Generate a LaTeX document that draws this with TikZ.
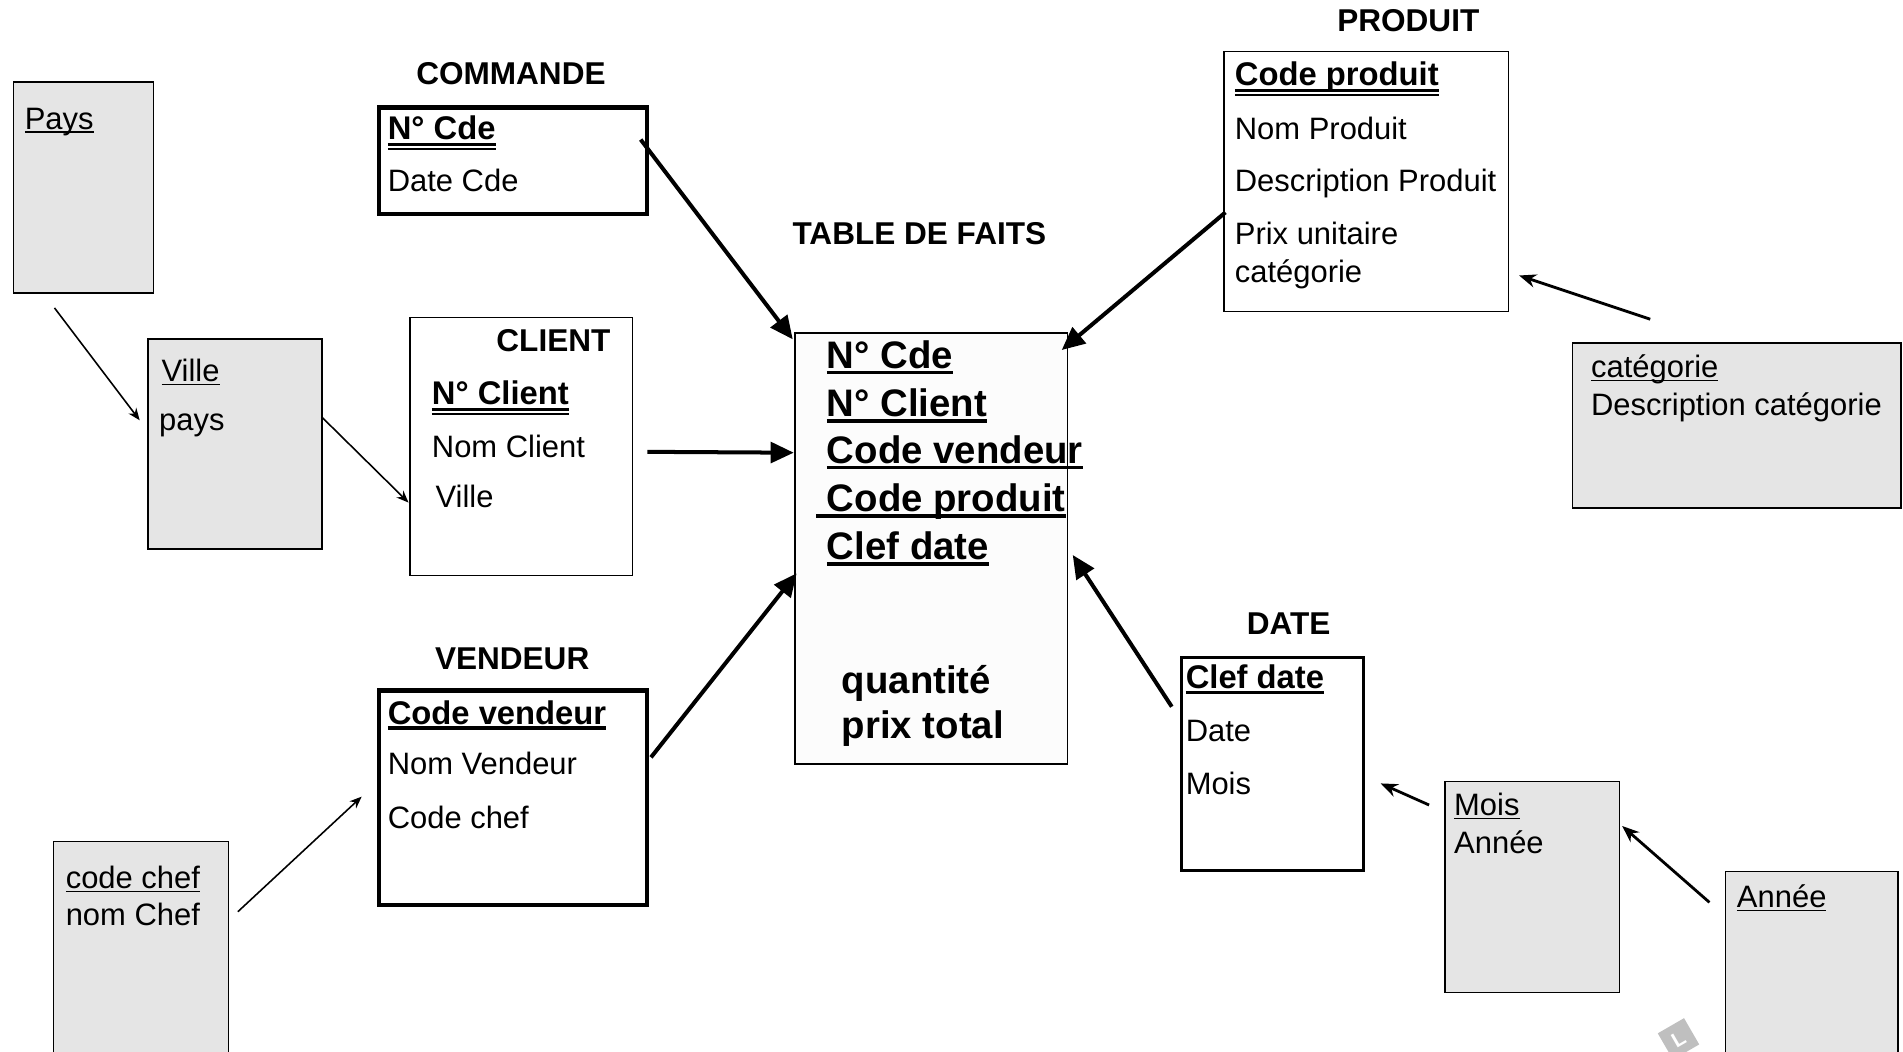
\documentclass[tikz,border=0pt]{standalone}
\usepackage{fontspec}
\setmainfont{Liberation Sans}
\usetikzlibrary{arrows.meta}

\newcommand{\souligne}[2][1.2pt]{\setbox0\hbox{#2}\rlap{\rule[\dimexpr-2pt-#1\relax]{\wd0}{#1}}\box0}
\newcommand{\dsouligne}[1]{\setbox0\hbox{#1}\rlap{\rule[-5pt]{\wd0}{2.2pt}}\rlap{\rule[-8.6pt]{\wd0}{1.8pt}}\box0}

\tikzset{
  boite/.style={draw, anchor=north west, inner sep=0pt, fill=white, line width=1.2pt},
  boiteforte/.style={boite, line width=3.5pt},
  hier/.style={boite, fill=gray!20, line width=1.3pt},
  titre/.style={anchor=base, inner sep=0pt, font=\fontsize{26}{31}\selectfont\bfseries},
  champ/.style={anchor=base west, inner sep=0pt, font=\fontsize{25.5}{30}\selectfont},
  clef/.style={champ, font=\fontsize{27}{32}\selectfont\bfseries},
  fait/.style={champ, font=\fontsize{31.6}{37}\selectfont\bfseries},
  fleche/.style={-{Stealth[length=10pt,width=8pt]}, line width=1.3pt},
  flechemoy/.style={-{Stealth[length=14pt,width=11pt]}, line width=2.3pt},
  flechegrosse/.style={-{Triangle[length=19pt,width=17pt]}, line width=3.3pt},
}

\begin{document}
\begin{tikzpicture}[x=1pt, y=-1pt]
            \clip (0,0) rectangle (1568,866);
            % coordinates
            \coordinate (pays-out) at (44.9,253.7);
            \coordinate (ville-in) at (115.1,346.3);
            \coordinate (ville-out) at (264.9,343.4);
            \coordinate (client-in) at (336.6,414.1);
            \coordinate (client-out) at (533.4,372.3);
            \coordinate (fait-in1) at (654,373);
            \coordinate (cmd-out) at (527.9,115);
            \coordinate (fait-in2) at (653.2,279.6);
            \coordinate (vend-out) at (536.4,624);
            \coordinate (fait-in3) at (656.4,472.4);
            \coordinate (prod-out) at (1009.7,175);
            \coordinate (fait-in4) at (874.8,288.4);
            \coordinate (date-out) at (965.5,582.3);
            \coordinate (fait-in5) at (883.9,457.3);
            \coordinate (cat-out) at (1359.7,263);
            \coordinate (prod-in) at (1251.7,227);
            \coordinate (mois-out) at (1177.5,663.3);
            \coordinate (date-in) at (1137.6,645.5);
            \coordinate (annee-out) at (1408.5,743.5);
            \coordinate (mois-in) at (1336.6,680.6);
            \coordinate (chef-out) at (196,751.2);
            \coordinate (vend-in) at (298,656.4);
            % pays / ville
            \node[hier, minimum width=115.5pt, minimum height=174pt] (pays) at (10.3,66.7) {};
            \node[champ] (pays-t1) at (20.2,106.3) {\souligne{Pays}};
            \node[hier, minimum width=143.4pt, minimum height=173pt] (ville) at (121.4,278.8) {};
            \node[champ] (ville-t1) at (133,314.4) {\souligne{Ville}};
            \node[champ] (ville-t2) at (131,354.9) {pays};
            % client
            \node[boite, minimum width=183.2pt, minimum height=212.5pt] (client) at (337.3,261) {};
            \node[titre] (client-titre) at (456,289.3) {CLIENT};
            \node[clef] (client-t1) at (355.7,333.7) {\dsouligne{N° Client}};
            \node[champ] (client-t2) at (355.7,376.6) {Nom Client};
            \node[champ] (client-t3) at (358.7,418.5) {Ville};
            % commande
            \node[titre] (cmd-titre) at (421,70) {COMMANDE};
            \node[boiteforte, minimum width=220.7pt, minimum height=87.8pt] (cmd) at (310.8,86.9) {};
            \node[clef] (cmd-t1) at (319.3,115) {\dsouligne{N° Cde}};
            \node[champ] (cmd-t2) at (319.3,157.4) {Date Cde};
            % table de faits
            \node[titre] (fait-titre) at (757.5,201.5) {TABLE DE FAITS};
            \node[boite, fill=gray!2, minimum width=224.7pt, minimum height=355.2pt] (fait) at (654.3,273.8) {};
            \node[fait] (fait-t1) at (681.2,303.5) {\souligne[3pt]{N° Cde}};
            \node[fait] (fait-t2) at (681.2,343.3) {\souligne[3pt]{N° Client}};
            \node[fait] (fait-t3) at (681.2,381.8) {\souligne[3pt]{Code vendeur}};
            \node[fait] (fait-t4) at (672.4,421.6) {\souligne[3pt]{\ Code produit}};
            \node[fait] (fait-t5) at (681.2,461.4) {\souligne[3pt]{Clef date}};
            \node[fait] (fait-t6) at (693.5,571.3) {quantité};
            \node[fait] (fait-t7) at (693.5,608.4) {prix total};
            % produit
            \node[titre] (prod-titre) at (1160.4,26) {PRODUIT};
            \node[boite, minimum width=234.3pt, minimum height=214pt] (prod) at (1008,41.9) {};
            \node[clef] (prod-t1) at (1017.3,70.8) {\dsouligne{Code produit}};
            \node[champ] (prod-t2) at (1017.3,115) {Nom Produit};
            \node[champ] (prod-t3) at (1017.3,157.5) {Description Produit};
            \node[champ] (prod-t4) at (1017.3,201.5) {Prix unitaire};
            \node[champ] (prod-t5) at (1017.3,232.7) {catégorie};
            \node[hier, minimum width=270.6pt, minimum height=135.8pt] (cat) at (1295,282) {};
            \node[champ] (cat-t1) at (1310.8,310.8) {\souligne{catégorie}};
            \node[champ] (cat-t2) at (1310.8,342.6) {Description catégorie};
            % date
            \node[titre] (date-titre) at (1061.7,523.2) {DATE};
            \node[boite, line width=2.2pt, minimum width=149.7pt, minimum height=175.8pt] (date) at (972.6,540.5) {};
            \node[clef] (date-t1) at (976.8,567.2) {\souligne[2.5pt]{Clef date}};
            \node[champ] (date-t2) at (976.8,610.6) {Date};
            \node[champ] (date-t3) at (976.8,655) {Mois};
            \node[hier, minimum width=143.8pt, minimum height=173.8pt] (mois) at (1190,643.3) {};
            \node[champ] (mois-t1) at (1198,671.6) {\souligne{Mois}};
            \node[champ] (mois-t2) at (1198,703.1) {Année};
            \node[hier, minimum width=142pt, minimum height=200pt] (annee) at (1421,717.4) {};
            \node[champ] (annee-t1) at (1431,747.6) {\souligne{Année}};
            % vendeur / chef
            \node[titre] (vend-titre) at (422,552) {VENDEUR};
            \node[boiteforte, minimum width=220.7pt, minimum height=176.6pt] (vend) at (310.8,567.2) {};
            \node[clef] (vend-t1) at (319.3,596.6) {\souligne[2.5pt]{Code vendeur}};
            \node[champ] (vend-t2) at (319.3,637.8) {Nom Vendeur};
            \node[champ] (vend-t3) at (319.3,682.5) {Code chef};
            \node[hier, minimum width=144.2pt, minimum height=200pt] (chef) at (43.4,692.7) {};
            \node[champ] (chef-t1) at (54,732) {\souligne{code chef}};
            \node[champ] (chef-t2) at (54,762.2) {nom Chef};
            % logo
            \node[fill=gray!50, text=white, rotate=30, inner sep=0pt, minimum size=25pt,
                  font=\fontsize{17}{17}\selectfont\bfseries] (logo) at (1383,856) {L};
            % arrows
            \draw[fleche] (pays-out) -- (ville-in);
            \draw[fleche] (ville-out) -- (client-in);
            \draw[fleche] (chef-out) -- (vend-in);
            \draw[flechegrosse] (client-out) -- (fait-in1);
            \draw[flechegrosse] (cmd-out) -- (fait-in2);
            \draw[flechegrosse] (vend-out) -- (fait-in3);
            \draw[flechegrosse] (prod-out) -- (fait-in4);
            \draw[flechegrosse] (date-out) -- (fait-in5);
            \draw[flechemoy] (cat-out) -- (prod-in);
            \draw[flechemoy] (mois-out) -- (date-in);
            \draw[flechemoy] (annee-out) -- (mois-in);
        \end{tikzpicture}
\end{document}
